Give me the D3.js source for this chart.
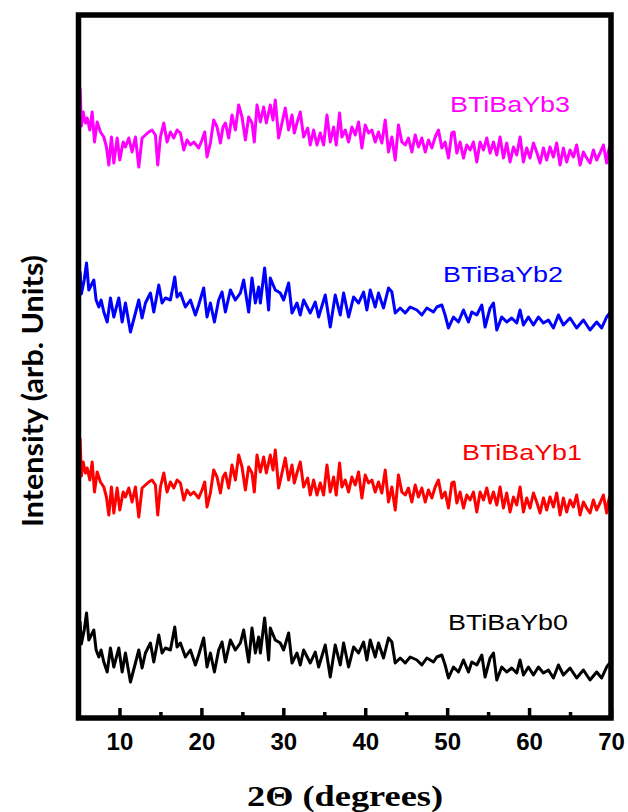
<!DOCTYPE html>
<html>
<head>
<meta charset="utf-8">
<script src="https://cdn.jsdelivr.net/npm/d3@7"></script>
<style>
body { margin: 0; background: #fff; }
</style>
</head>
<body>
<script>
// samples, stacked bottom to top
var samples = ["BTiBaYb0", "BTiBaYb1", "BTiBaYb2", "BTiBaYb3"];
var colors = ["#000000", "#ff0000", "#0000ff", "#ff00ff"];
var offsets = [2, 172, 352, 522];      // vertical stacking offset (arb. units)
var patternOf = ["A", "B", "A", "B"];  // Yb0/Yb2 and Yb1/Yb3 show the same pattern

// pattern A (Yb0, Yb2)
var thetaA = [
  5.05,5.2,5.35,5.7,5.98,6.26,6.87,7.15,7.48,7.76,
  8.09,8.5,8.9,9.31,9.92,10.33,10.73,11.34,11.95,12.36,
  12.76,13.17,13.78,14.19,14.8,15.2,15.61,16.22,16.75,17.03,
  17.44,18.05,18.66,19.27,19.67,20.28,20.69,21.1,21.59,22.11,
  22.52,22.93,23.54,24.15,24.76,25.16,25.77,26.18,26.59,26.99,
  27.2,27.72,28.21,28.41,29.02,29.63,30.04,30.65,31.06,31.67,
  32.07,32.48,33.29,33.9,34.31,35.12,35.73,36.34,36.95,37.36,
  37.97,38.58,39.19,39.8,40.2,40.61,41.22,41.62,42.23,42.84,
  43.25,43.66,44.27,44.88,45.49,46.3,46.91,47.52,48.33,48.74,
  49.35,49.75,50.16,50.77,51.38,51.99,52.6,53.01,53.62,54.23,
  54.63,55.24,55.65,56.06,56.66,57.27,57.88,58.49,58.9,59.31,
  59.92,60.53,61.14,61.75,62.36,62.97,63.58,64.19,65.0,65.81,
  66.63,67.44,68.25,68.86,69.47,69.85
];
var intensityA = [
  80,94,72,86,103,76,86,66,59,66,
  54,44,68,49,68,44,63,34,53,66,
  48,63,73,54,81,63,68,66,89,69,
  73,59,66,51,61,78,49,63,44,66,
  74,54,76,66,73,86,54,88,63,79,
  63,98,56,88,76,73,66,83,53,63,
  51,66,53,64,49,71,39,71,51,73,
  49,69,63,74,56,76,59,73,58,78,
  74,53,58,53,59,56,51,58,54,59,
  61,51,38,49,44,56,44,54,51,61,
  39,58,63,36,49,44,48,43,56,41,
  49,41,49,43,46,38,51,41,48,38,
  46,36,44,38,49,53
];

// pattern B (Yb1, Yb3)
var thetaB = [
  5.05,5.2,5.35,5.57,5.85,6.06,6.38,6.67,6.95,7.28,
  7.68,8.09,8.41,8.7,9.02,9.31,9.72,10.04,10.45,10.73,
  11.14,11.54,11.95,12.36,12.76,13.17,13.58,13.98,14.39,14.67,
  15.0,15.41,15.81,16.22,16.63,17.03,17.44,17.85,18.25,18.66,
  19.07,19.67,20.08,20.41,20.69,21.1,21.5,21.91,22.32,22.64,
  22.93,23.33,23.74,24.15,24.55,24.96,25.37,25.77,26.18,26.46,
  26.79,27.2,27.6,27.93,28.41,28.74,29.02,29.43,29.84,30.24,
  30.65,31.06,31.34,31.67,32.07,32.48,32.97,33.29,33.7,34.11,
  34.51,34.92,35.33,35.73,36.14,36.46,36.87,37.15,37.56,37.97,
  38.37,38.78,39.19,39.59,40.0,40.41,40.81,41.22,41.62,42.03,
  42.44,42.84,43.25,43.66,44.06,44.47,44.88,45.28,45.69,46.1,
  46.5,46.91,47.32,47.72,48.13,48.54,48.94,49.35,49.75,50.16,
  50.57,50.85,51.18,51.58,51.99,52.4,52.8,53.21,53.62,54.02,
  54.43,54.84,55.24,55.65,56.06,56.46,56.87,57.27,57.68,58.09,
  58.49,58.9,59.31,59.71,60.12,60.53,60.93,61.34,61.75,62.15,
  62.56,62.97,63.37,63.78,64.19,64.59,65.0,65.41,65.81,66.22,
  66.63,67.03,67.44,67.85,68.25,68.66,69.07,69.47,69.67,69.85
];
var intensityB = [
  62,107,70,84,73,78,66,84,54,74,
  64,59,49,31,59,33,58,36,54,49,
  58,44,59,29,58,61,64,66,61,31,
  59,73,54,64,58,66,63,46,56,51,
  54,48,56,64,39,53,76,69,53,69,
  73,58,81,66,91,79,56,79,73,54,
  91,74,89,73,91,76,96,58,73,88,
  66,81,63,73,84,59,68,51,66,51,
  63,51,81,54,69,51,83,59,66,54,
  69,61,74,48,71,63,66,54,64,53,
  76,44,59,36,71,54,51,58,44,61,
  49,58,44,56,48,59,66,48,54,38,
  63,64,43,54,38,51,46,54,34,54,
  46,58,43,54,41,59,38,53,34,49,
  41,59,34,48,38,53,44,33,48,36,
  49,39,53,31,48,34,46,39,51,31,
  44,38,33,46,36,43,51,33,44,50
];

var xTicks = [10, 20, 30, 40, 50, 60, 70];
var xMinorTicks = [15, 25, 35, 45, 55, 65];

// label placement (left x, baseline y) in pixels
var labelPos = [[448, 630], [462, 460], [443, 282], [450, 112]];

var width = 628,
    height = 812;

var svg = d3.select("body")
    .append("svg")
    .attr("width", width)
    .attr("height", height);

var x = d3.scaleLinear().domain([5, 70]).range([78.5, 611]);
var y = d3.scaleLinear().domain([0, 703]).range([718, 15]);

var patterns = {
    A: d3.zip(thetaA, intensityA),
    B: d3.zip(thetaB, intensityB)
};

//draw the traces
samples.forEach(function(name, i){
    var off = offsets[i];
    var line = d3.line()
        .x(function(d){ return x(d[0]); })
        .y(function(d){ return y(d[1] + off); });

    svg.append("path")
        .datum(patterns[patternOf[i]])
        .attr("fill", "none")
        .attr("stroke", colors[i])
        .attr("stroke-width", 3)
        .attr("stroke-linejoin", "round")
        .attr("d", line);

    svg.append("text")
        .attr("x", labelPos[i][0])
        .attr("y", labelPos[i][1])
        .attr("fill", colors[i])
        .style("font-family", "'Liberation Sans', Arial, sans-serif")
        .style("font-size", "22px")
        .attr("textLength", 120)
        .attr("lengthAdjust", "spacingAndGlyphs")
        .text(name);
});

//major and minor ticks on the bottom axis
var major = svg.append("g")
    .attr("transform", "translate(0,718)")
    .call(d3.axisBottom(x).tickValues(xTicks).tickSize(-10));
major.select(".domain").remove();
major.selectAll(".tick line").attr("stroke", "#000").attr("stroke-width", 3.5);
major.selectAll(".tick text")
    .attr("y", 32)
    .attr("dy", 0)
    .attr("fill", "#000")
    .style("font-family", "'Liberation Sans', Arial, sans-serif")
    .style("font-weight", "bold")
    .style("font-size", "24px");

var minor = svg.append("g")
    .attr("transform", "translate(0,718)")
    .call(d3.axisBottom(x).tickValues(xMinorTicks).tickSize(-6).tickFormat(""));
minor.select(".domain").remove();
minor.selectAll(".tick line").attr("stroke", "#000").attr("stroke-width", 3.5);

//frame
svg.append("rect")
    .attr("x", x(5))
    .attr("y", y(703))
    .attr("width", x(70) - x(5))
    .attr("height", y(0) - y(703))
    .attr("fill", "none")
    .attr("stroke", "#000")
    .attr("stroke-width", 5.5);

//axis titles
svg.append("text")
    .attr("transform", "translate(43,391) rotate(-90)")
    .attr("text-anchor", "middle")
    .style("font-family", "Lato, 'Open Sans', sans-serif")
    .style("font-weight", "bold")
    .style("font-size", "28px")
    .attr("textLength", 272)
    .attr("lengthAdjust", "spacingAndGlyphs")
    .text("Intensity (arb. Units)");

svg.append("text")
    .attr("x", 345)
    .attr("y", 806)
    .attr("text-anchor", "middle")
    .style("font-family", "'Liberation Serif', 'Times New Roman', serif")
    .style("font-weight", "bold")
    .style("font-size", "30px")
    .attr("textLength", 196)
    .attr("lengthAdjust", "spacingAndGlyphs")
    .text("2\u0398 (degrees)");
</script>
</body>
</html>
